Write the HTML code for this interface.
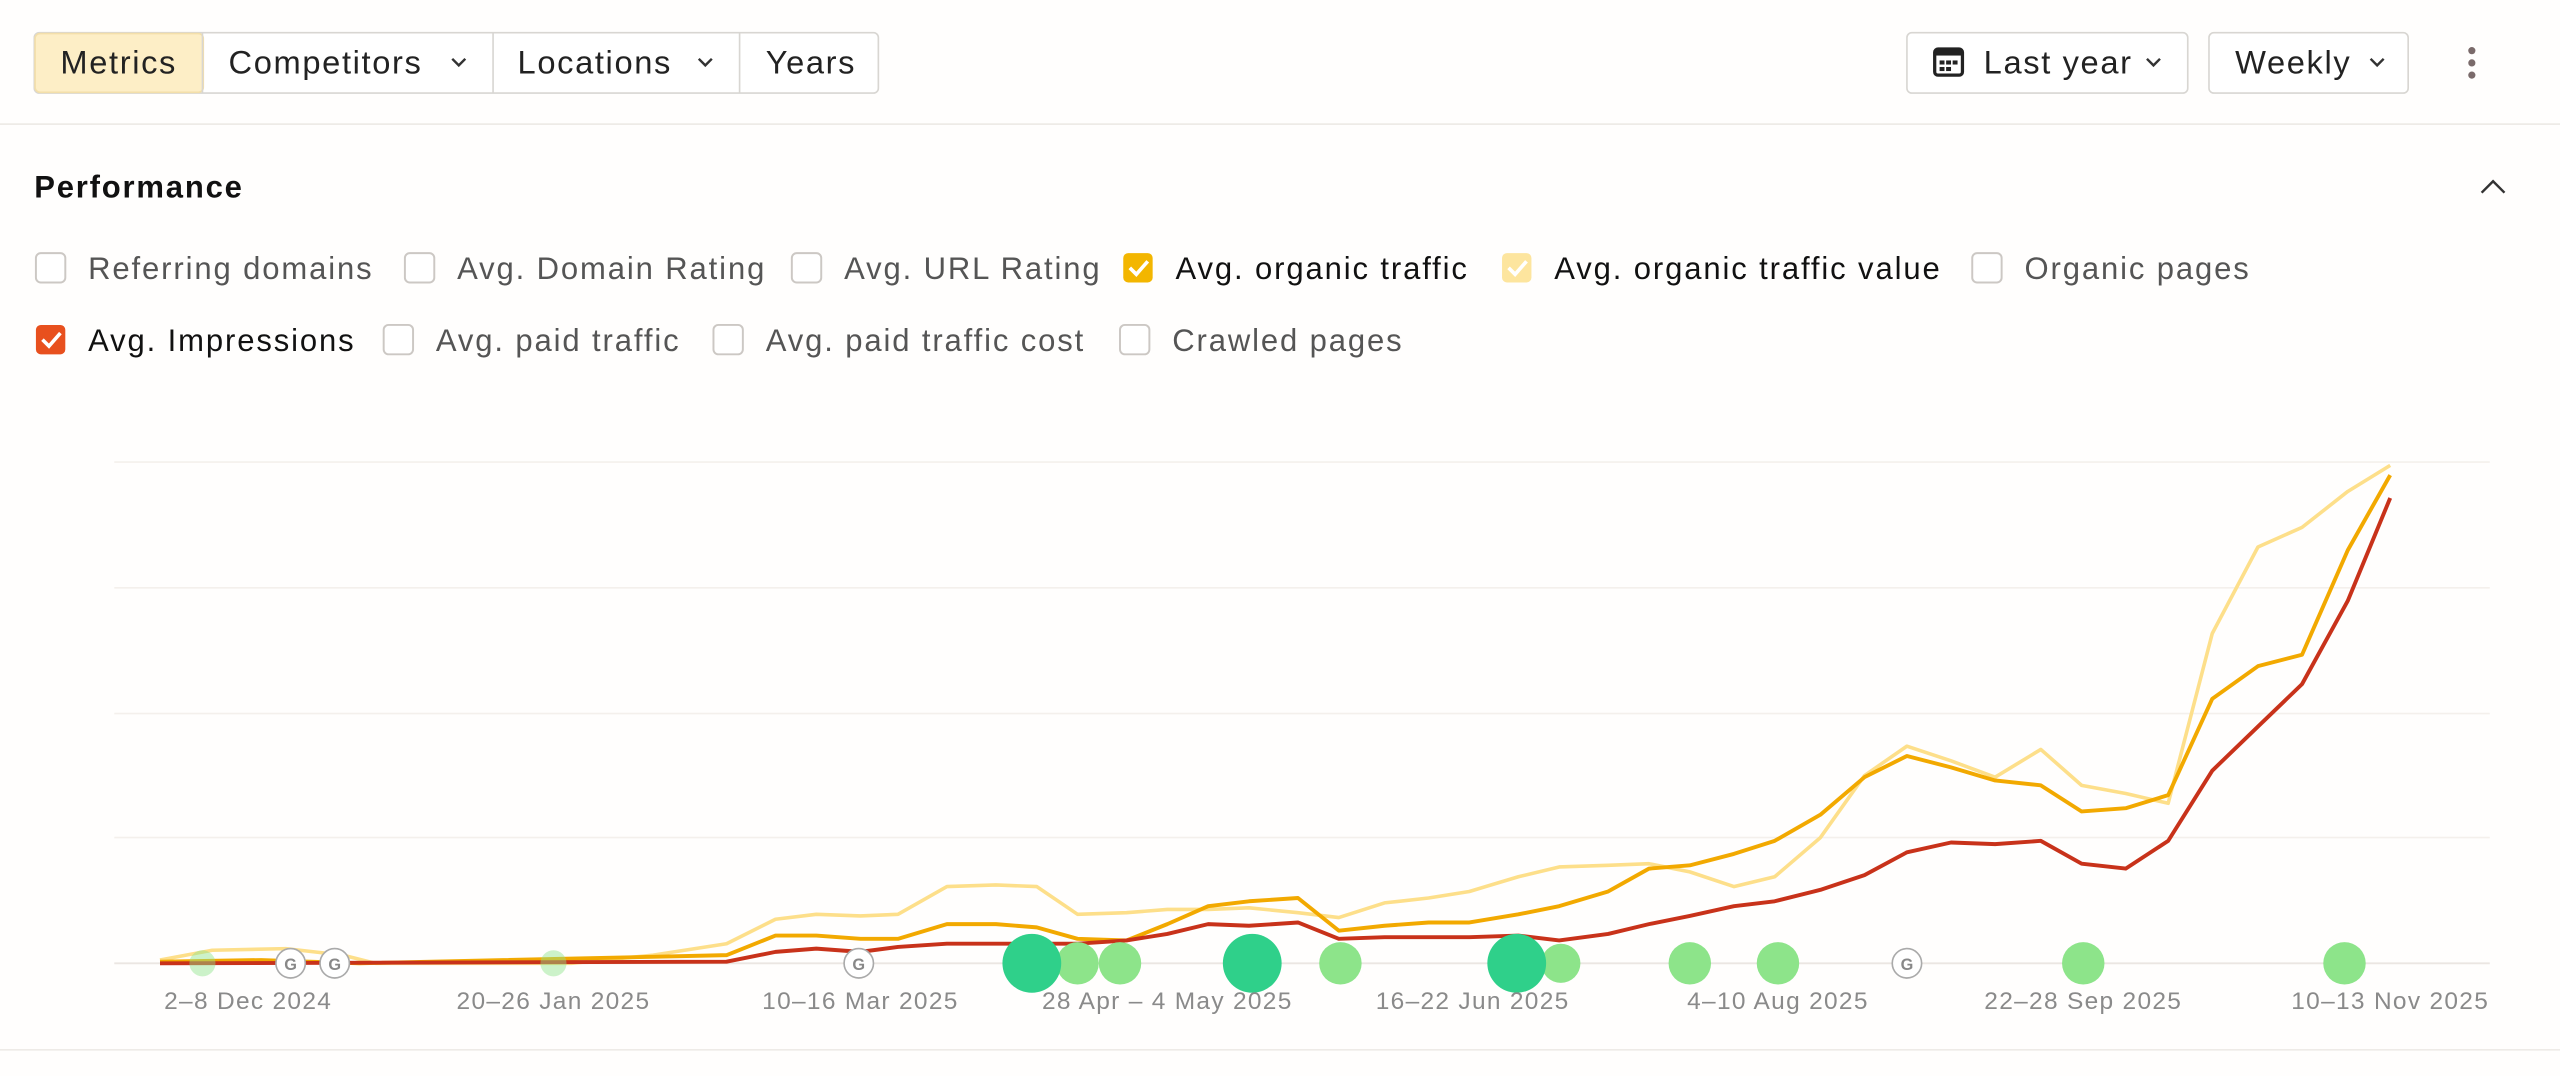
<!DOCTYPE html>
<html><head><meta charset="utf-8"><style>
html,body{margin:0;padding:0;background:#fff;}
svg{display:block;}
text{font-family:"Liberation Sans",sans-serif;}
</style></head><body>
<svg width="2560" height="1076" viewBox="0 0 1568 659" xmlns="http://www.w3.org/2000/svg">
<rect width="1568" height="659" fill="#fffefd"/>
<!-- toolbar -->
<rect x="21" y="20" width="517" height="37" rx="3" fill="#fff" stroke="#d8d6d2"/>
<rect x="21.5" y="20.5" width="103" height="36" rx="3" fill="#fdeec6" stroke="#f3dfaa"/>
<line x1="124" y1="20" x2="124" y2="57" stroke="#d8d6d2"/>
<line x1="302" y1="20" x2="302" y2="57" stroke="#d8d6d2"/>
<line x1="453" y1="20" x2="453" y2="57" stroke="#d8d6d2"/>
<g font-size="20" fill="#222" letter-spacing="1">
<text x="37" y="45">Metrics</text>
<text x="140" y="45">Competitors</text>
<text x="317" y="45">Locations</text>
<text x="469" y="45">Years</text>
</g>
<g fill="none" stroke="#333" stroke-width="1.5">
<path d="M277 36 l4 4 l4 -4"/><path d="M428 36 l4 4 l4 -4"/>
<path d="M1520 118 l7 -7 l7 7"/>
</g>
<rect x="1168" y="20" width="172" height="37" rx="3" fill="#fff" stroke="#d8d6d2"/>
<text x="1215" y="45" font-size="20" fill="#222" letter-spacing="1">Last year</text>
<path d="M1315 36 l4 4 l4 -4" fill="none" stroke="#333" stroke-width="1.5"/>
<rect x="1185" y="30" width="17" height="16" rx="2" fill="none" stroke="#222" stroke-width="2"/>
<rect x="1185" y="30" width="17" height="4" fill="#222"/>
<g fill="#222"><rect x="1188" y="37" width="3" height="2.5"/><rect x="1192" y="37" width="3" height="2.5"/><rect x="1196" y="37" width="3" height="2.5"/><rect x="1188" y="41" width="3" height="2.5"/><rect x="1192" y="41" width="3" height="2.5"/></g>
<rect x="1353" y="20" width="122" height="37" rx="3" fill="#fff" stroke="#d8d6d2"/>
<text x="1369" y="45" font-size="20" fill="#222" letter-spacing="1">Weekly</text>
<path d="M1452 36 l4 4 l4 -4" fill="none" stroke="#333" stroke-width="1.5"/>
<g fill="#7a6a6a"><circle cx="1514" cy="31" r="2.2"/><circle cx="1514" cy="38.5" r="2.2"/><circle cx="1514" cy="46" r="2.2"/></g>
<line x1="0" y1="76" x2="1568" y2="76" stroke="#eeebe7"/>
<text x="21" y="121" font-size="19" font-weight="bold" fill="#111" letter-spacing="1.1">Performance</text>
<!-- checkboxes -->
<g fill="#fff" stroke="#ccc8c4" stroke-width="1.2">
<rect x="22" y="155" width="18" height="18" rx="3"/>
<rect x="248" y="155" width="18" height="18" rx="3"/>
<rect x="485" y="155" width="18" height="18" rx="3"/>
<rect x="1208" y="155" width="18" height="18" rx="3"/>
<rect x="235" y="199" width="18" height="18" rx="3"/>
<rect x="437" y="199" width="18" height="18" rx="3"/>
<rect x="686" y="199" width="18" height="18" rx="3"/>
</g>
<rect x="688" y="155" width="18" height="18" rx="3" fill="#f3b600"/>
<rect x="920" y="155" width="18" height="18" rx="3" fill="#fde59e"/>
<rect x="22" y="199" width="18" height="18" rx="3" fill="#e8501e"/>
<g fill="none" stroke="#fff" stroke-width="2.2">
<path d="M692 164 l4 4 l7 -8"/><path d="M924 164 l4 4 l7 -8"/><path d="M26 208 l4 4 l7 -8"/>
</g>
<g font-size="19" fill="#555" letter-spacing="1.15">
<text x="54" y="171">Referring domains</text>
<text x="280" y="171">Avg. Domain Rating</text>
<text x="517" y="171">Avg. URL Rating</text>
<text x="720" y="171" fill="#111">Avg. organic traffic</text>
<text x="952" y="171" fill="#111">Avg. organic traffic value</text>
<text x="1240" y="171">Organic pages</text>
<text x="54" y="215" fill="#111">Avg. Impressions</text>
<text x="267" y="215">Avg. paid traffic</text>
<text x="469" y="215">Avg. paid traffic cost</text>
<text x="718" y="215">Crawled pages</text>
</g>
<!-- grid -->
<g stroke="#f4f0ec" stroke-width="1">
<line x1="70" y1="283" x2="1525" y2="283"/><line x1="70" y1="360" x2="1525" y2="360"/>
<line x1="70" y1="437" x2="1525" y2="437"/><line x1="70" y1="513" x2="1525" y2="513"/>
</g>
<line x1="70" y1="590" x2="1525" y2="590" stroke="#ebe6e2" stroke-width="1.2"/>
<!-- series -->
<polyline fill="none" stroke="#fddf8a" stroke-width="2.2" stroke-linejoin="round" points="98,588 130,582 175,581 210,585 230,590 350,590 400,585 445,578 475,563 500,560 527,561 550,560 580,543 610,542 635,543 660,560 690,559 715,557 740,557 765,556 795,559 820,562 848,553 875,550 900,546 930,537 955,531 985,530 1010,529 1035,534 1062,543 1087,537 1115,513 1142,475 1168,457 1195,466 1222,476 1250,459 1275,481 1302,486 1328,492 1355,388 1383,335 1410,323 1438,301 1464,285"/>
<polyline fill="none" stroke="#f2a900" stroke-width="2.4" stroke-linejoin="round" points="98,589 160,588 220,590 445,585 475,573 500,573 527,575 550,575 580,566 610,566 635,568 660,575 690,576 715,566 740,555 765,552 795,550 820,570 848,567 875,565 900,565 930,560 955,555 985,546 1010,532 1035,530 1062,523 1087,515 1115,499 1142,476 1168,463 1195,470 1222,478 1250,481 1275,497 1302,495 1328,487 1355,428 1383,408 1410,401 1438,337 1464,291"/>
<polyline fill="none" stroke="#c8321a" stroke-width="2.4" stroke-linejoin="round" points="98,590 445,589 475,583 500,581 527,583 550,580 580,578 630,578 660,578 690,576 715,572 740,566 765,567 795,565 820,575 848,574 875,574 900,574 930,573 955,576 985,572 1010,566 1035,561 1062,555 1087,552 1115,545 1142,536 1168,522 1195,516 1222,517 1250,515 1275,529 1302,532 1328,515 1355,472 1383,445 1410,419 1438,368 1464,305"/>
<!-- markers -->
<g fill="#8de48a">
<circle cx="124" cy="590" r="8" opacity="0.45"/><circle cx="339" cy="590" r="8" opacity="0.45"/>
<circle cx="660" cy="590" r="13"/><circle cx="686" cy="590" r="13"/><circle cx="821" cy="590" r="13"/>
<circle cx="956" cy="590" r="12"/><circle cx="1035" cy="590" r="13"/><circle cx="1089" cy="590" r="13"/>
<circle cx="1276" cy="590" r="13"/><circle cx="1436" cy="590" r="13"/>
</g>
<g fill="#2fd08a"><circle cx="632" cy="590" r="18"/><circle cx="767" cy="590" r="18"/><circle cx="929" cy="590" r="18"/></g>
<g fill="#fff" stroke="#aaa" stroke-width="1">
<circle cx="178" cy="590" r="9"/><circle cx="205" cy="590" r="9"/><circle cx="526" cy="590" r="9"/><circle cx="1168" cy="590" r="9"/>
</g>
<g font-size="10" fill="#888" text-anchor="middle" font-weight="bold">
<text x="178" y="594">G</text><text x="205" y="594">G</text><text x="526" y="594">G</text><text x="1168" y="594">G</text>
</g>
<!-- x labels -->
<g font-size="15" fill="#8a8a8a" text-anchor="middle" letter-spacing="0.8">
<text x="152" y="618">2–8 Dec 2024</text>
<text x="339" y="618">20–26 Jan 2025</text>
<text x="527" y="618">10–16 Mar 2025</text>
<text x="715" y="618">28 Apr – 4 May 2025</text>
<text x="902" y="618">16–22 Jun 2025</text>
<text x="1089" y="618">4–10 Aug 2025</text>
<text x="1276" y="618">22–28 Sep 2025</text>
<text x="1464" y="618">10–13 Nov 2025</text>
</g>
<line x1="0" y1="643" x2="1568" y2="643" stroke="#eeebe7"/>
</svg>
</body></html>
